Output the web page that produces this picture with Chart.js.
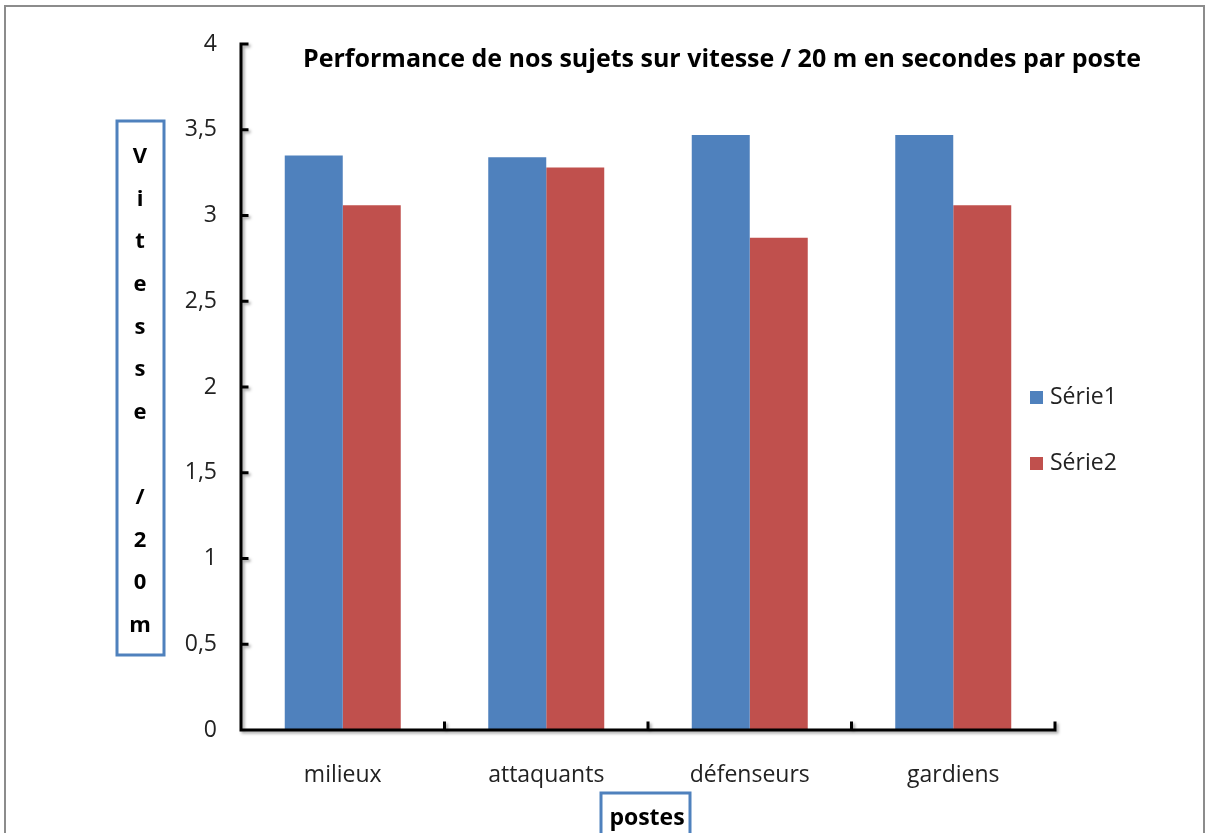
<!DOCTYPE html>
<html>
<head>
<meta charset="utf-8">
<script src="https://cdn.jsdelivr.net/npm/chart.js@4/dist/chart.umd.min.js"></script>
<style>
  html, body { margin: 0; padding: 0; background: #fff; }
  #wrap { position: relative; width: 1210px; height: 833px; }
  canvas { display: block; }
</style>
</head>
<body>
<div id="wrap"><canvas id="c" width="1210" height="833"></canvas></div>
<script>
// Chart data
const categories = ['milieux', 'attaquants', 'défenseurs', 'gardiens'];
const serie1 = [3.35, 3.34, 3.47, 3.47];
const serie2 = [3.06, 3.28, 2.87, 3.06];
const seriesNames = ['Série1', 'Série2'];
const yTicks = [0, 0.5, 1, 1.5, 2, 2.5, 3, 3.5, 4];
const chartTitle = 'Performance de nos sujets sur vitesse / 20 m en secondes par poste';
const yTitleLetters = ['V', 'i', 't', 'e', 's', 's', 'e', '', '/', '2', '0', 'm'];
const xTitle = 'postes';

const BLUE = '#4f81bd';
const RED = '#c0504d';
const FONT = '"Open Sans", "Liberation Sans", sans-serif';

const fmt = v => String(v).replace('.', ',');

// Frame, axes with inward ticks, boxed titles and legend
const decorations = {
  id: 'decorations',
  beforeDraw(chart) {
    const ctx = chart.ctx;
    ctx.save();
    ctx.fillStyle = '#fff';
    ctx.fillRect(0, 0, chart.width, chart.height);
    ctx.strokeStyle = '#8c8c8c';
    ctx.lineWidth = 2;
    ctx.beginPath();
    ctx.moveTo(5, 840); ctx.lineTo(5, 6); ctx.lineTo(1204, 6); ctx.lineTo(1204, 840);
    ctx.stroke();
    ctx.restore();
  },
  afterDatasetsDraw(chart) {
    const ctx = chart.ctx;
    const x = chart.scales.x, y = chart.scales.y;
    const area = chart.chartArea;
    ctx.save();
    ctx.shadowColor = 'rgba(0,0,0,0.35)';
    ctx.shadowBlur = 3;
    ctx.shadowOffsetX = 2;
    ctx.shadowOffsetY = 2;
    ctx.strokeStyle = '#000';
    ctx.lineWidth = 3;
    ctx.lineCap = 'square';
    // y axis line and inward ticks
    const y0 = y.getPixelForValue(0), yTop = y.getPixelForValue(4);
    ctx.beginPath();
    ctx.moveTo(area.left, y0); ctx.lineTo(area.left, yTop);
    yTicks.forEach(v => {
      const py = y.getPixelForValue(v);
      ctx.moveTo(area.left, py); ctx.lineTo(area.left + 6, py);
    });
    // x axis line and inward ticks at category boundaries
    ctx.moveTo(area.left, y0); ctx.lineTo(area.right, y0);
    for (let i = 0; i < categories.length; i++) {
      const px = (x.getPixelForValue(i) + (i + 1 < categories.length ? x.getPixelForValue(i + 1) : 2 * x.getPixelForValue(i) - x.getPixelForValue(i - 1))) / 2;
      ctx.moveTo(px, y0); ctx.lineTo(px, y0 - 7);
    }
    ctx.stroke();
    ctx.restore();

    // chart title
    ctx.save();
    ctx.fillStyle = '#000';
    ctx.font = 'bold 25px ' + FONT;
    ctx.textAlign = 'center';
    ctx.textBaseline = 'middle';
    ctx.fillText(chartTitle, 722, 60);

    // y axis title box
    ctx.strokeStyle = BLUE;
    ctx.lineWidth = 3;
    ctx.strokeRect(117, 121, 47, 534);
    ctx.font = 'bold 22px ' + FONT;
    yTitleLetters.forEach((ch, i) => {
      if (ch) ctx.fillText(ch, 140, 157 + i * 42.6);
    });

    // x axis title box
    ctx.strokeRect(601, 793, 89, 50);
    ctx.font = 'bold 23px ' + FONT;
    ctx.fillText(xTitle, 647, 818);

    // legend
    ctx.font = '23px ' + FONT;
    ctx.textAlign = 'left';
    const colors = [BLUE, RED];
    seriesNames.forEach((name, i) => {
      const ly = 397 + i * 66;
      ctx.fillStyle = colors[i];
      ctx.fillRect(1030, ly - 6, 13, 13);
      ctx.fillStyle = '#222';
      ctx.fillText(name, 1050, ly);
    });
    ctx.restore();
  }
};

new Chart(document.getElementById('c'), {
  type: 'bar',
  data: {
    labels: categories,
    datasets: [
      { label: seriesNames[0], data: serie1, backgroundColor: BLUE, borderWidth: 0 },
      { label: seriesNames[1], data: serie2, backgroundColor: RED, borderWidth: 0 }
    ]
  },
  options: {
    responsive: false,
    animation: false,
    devicePixelRatio: 1,
    layout: { padding: { left: 0, top: 44, right: 155, bottom: 0 } },
    datasets: { bar: { categoryPercentage: 0.57, barPercentage: 1.0 } },
    plugins: {
      legend: { display: false },
      title: { display: false },
      tooltip: { enabled: false }
    },
    scales: {
      x: {
        grid: { display: false, drawTicks: false },
        border: { display: false },
        ticks: { color: '#222', font: { family: FONT, size: 23 }, padding: 32 },
        afterFit(s) { s.height = 103; }
      },
      y: {
        min: 0, max: 4,
        afterBuildTicks(s) { s.ticks = yTicks.map(v => ({ value: v })); },
        grid: { display: false, drawTicks: false },
        border: { display: false },
        ticks: {
          color: '#222', font: { family: FONT, size: 23 }, padding: 24,
          callback: v => fmt(v)
        },
        afterFit(s) { s.width = 241; }
      }
    }
  },
  plugins: [decorations]
});
</script>
</body>
</html>
